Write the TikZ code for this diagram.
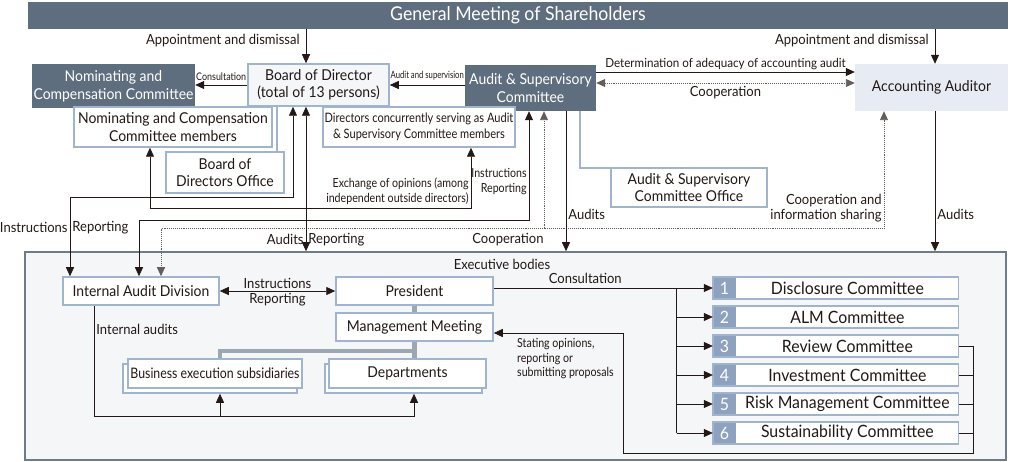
\documentclass[tikz,border=0pt]{standalone}
\usepackage{fontspec}
\setmainfont{Lato}[FakeStretch=0.93]
\newfontfamily\narrowfont[FakeStretch=0.85]{Lato}
\newfontfamily\narrowerfont[FakeStretch=0.77]{Lato}
\usetikzlibrary{arrows.meta}

\definecolor{slate}{RGB}{95,110,126}
\definecolor{frameblue}{RGB}{160,180,206}
\definecolor{numblue}{RGB}{142,162,191}
\definecolor{paleblue}{RGB}{231,235,243}
\definecolor{palegray}{RGB}{244,246,248}
\definecolor{execline}{RGB}{110,124,138}
\definecolor{stemgray}{RGB}{155,168,180}
\definecolor{ink}{RGB}{35,24,21}

\newcommand\sz[2]{\fontsize{#1}{#2}\selectfont}

\tikzset{
  darkbox/.style={fill=slate, text=white, align=center, inner sep=0pt, font=\sz{15}{18}},
  whitebox/.style={draw=frameblue, line width=1.5pt, fill=white, align=center, inner sep=0pt, font=\sz{15}{17.5}},
  lbl/.style={font=\sz{14}{15}, inner sep=2pt, align=center},
  narrow/.style={font=\narrowfont\sz{12.5}{15}, inner sep=2pt},
  minilbl/.style={font=\narrowfont\sz{10.5}{12}, inner sep=1.5pt},
  link/.style={draw=ink, line width=0.8pt},
  coop/.style={draw=ink!70, line width=0.9pt, densely dotted},
  bracket/.style={draw=frameblue, line width=1.5pt},
  stem/.style={draw=stemgray, line width=4.5pt},
  numbox/.style={fill=numblue, text=white, minimum width=23, minimum height=22, inner sep=0pt, font=\sz{17}{17}},
  combox/.style={fill=white, minimum width=222, minimum height=22, inner sep=0pt, font=\sz{17}{17}}
}

\begin{document}
\begin{tikzpicture}[x=1pt,y=-1pt, >={Triangle[length=9pt,width=8pt]}, every node/.style={text=ink}]
    \useasboundingbox (0,0) rectangle (1012,462);

    % Top level
    \node[darkbox, minimum width=980, minimum height=27, font=\sz{19}{20}] (gm) at (518,15.5) {General Meeting of Shareholders};
    \node[darkbox, minimum width=163, minimum height=44] (ncc) at (113.5,86) {Nominating and\\Compensation Committee};
    \node[whitebox, fill=palegray, minimum width=141, minimum height=42] (bod) at (318.5,85) {Board of Director\\(total of 13 persons)};
    \node[darkbox, minimum width=131, minimum height=46] (asc) at (530.5,88) {Audit \& Supervisory\\Committee};
    \node[fill=paleblue, minimum width=153, minimum height=47, font=\sz{15}{17}] (aa) at (931.5,87.5) {Accounting Auditor};

    % Members and offices
    \draw[bracket] ([xshift=-41.5]bod.south) -- ++(0,46);
    \draw[bracket] ([xshift=49.5]asc.south) -- ++(0,57) -- ++(31,0);
    \node[whitebox, minimum width=198, minimum height=40] (ncm) at (173,127) {Nominating and Compensation\\Committee members};
    \node[whitebox, minimum width=192, minimum height=40, font=\narrowfont\sz{13}{16}] (dcs) at (419,127) {Directors concurrently serving as Audit\\\& Supervisory Committee members};
    \node[whitebox, minimum width=118, minimum height=41] (bdo) at (225,172.5) {Board of\\Directors Office};
    \node[whitebox, minimum width=156, minimum height=39] (asco) at (689,187.5) {Audit \& Supervisory\\Committee Office};

    % Executive bodies
    \node[draw=execline, line width=1.5pt, fill=palegray, minimum width=981, minimum height=208, inner sep=0pt] (exec) at (515.5,356) {};
    \node[lbl] (exlbl) at (502,264) {Executive bodies};
    \node[whitebox, minimum width=156, minimum height=28] (iad) at (141,291) {Internal Audit Division};
    \node[whitebox, minimum width=157, minimum height=28] (pres) at (414.5,291) {President};
    \node[whitebox, minimum width=157, minimum height=28] (mm) at (414.5,327) {Management Meeting};
    \node[whitebox, minimum width=174, minimum height=29] (besb) at (210,378.5) {};
    \node[whitebox, minimum width=157, minimum height=29] (depb) at (403.5,378.5) {};
    \draw[stem] (pres.south) -- (mm.north);
    \draw[stem] (mm.south) -- ++(0,9) -| ([xshift=10]besb.north);
    \draw[stem] (mm.south) -- (mm.south |- depb.north);
    \node[whitebox, minimum width=174, minimum height=29, font=\narrowfont\sz{14.5}{17}] (bes) at (215,373.5) {Business execution subsidiaries};
    \node[whitebox, minimum width=157, minimum height=29] (dep) at (407.5,373.5) {Departments};

    % Committees
    \foreach \k/\name/\yy in {1/Disclosure Committee/288, 2/ALM Committee/317, 3/Review Committee/346,
        4/Investment Committee/375, 5/Risk Management Committee/404, 6/Sustainability Committee/433} {
        \node[numbox] (n\k) at (724.5,\yy) {\k};
        \node[combox, anchor=west] (c\k) at (n\k.east) {\name};
        \draw[frameblue, line width=1.5pt] (n\k.north west) rectangle (c\k.south east);
    }

    % Upper connectors
    \draw[link,->] ([xshift=-12.5]bod.north |- gm.south) -- node[lbl, left=4pt, pos=0.34] {Appointment and dismissal} ([xshift=-12.5]bod.north);
    \draw[link,->] ([xshift=3.5]aa.north |- gm.south) -- node[lbl, left=4pt, pos=0.34] {Appointment and dismissal} ([xshift=3.5]aa.north);
    \draw[link,->] (bod.west) -- node[minilbl, above=3pt] {Consultation} (bod.west -| ncc.east);
    \draw[link,->] (asc.west |- bod.east) -- node[minilbl, above=3pt, font=\narrowerfont\sz{10}{12}] {Audit and supervision} (bod.east);
    \draw[link,->] ([yshift=16]asc.east) -- node[lbl, above, font=\sz{12.5}{14}] {Determination of adequacy of accounting audit} ([yshift=16]asc.east -| aa.west);
    \draw[coop,<->] ([yshift=5]asc.east) -- node[lbl, below=1pt] {Cooperation} ([yshift=5]asc.east -| aa.west);

    % Links down to the executive bodies
    \draw[link,<->] ([xshift=-23]ncm.south) -- ++(0,61) -| node[pos=0.64, left, narrow, align=right] {Exchange of opinions (among\\independent outside directors)} ([xshift=52]dcs.south);
    \draw[link,<->] ([xshift=-25.5]bod.south) -- ++(0,91) -| node[pos=0.69, left, lbl] {Instructions} node[pos=0.69, right, lbl] {Reporting} ([xshift=-71]iad.north);
    \draw[link,<->] ([xshift=-1.5]asc.south) -- node[pos=0.65, left, narrow, align=right] {Instructions\\Reporting} ++(0,109) -| ([xshift=-2]iad.north);
    \draw[coop,<->] ([xshift=20]iad.north) -- ++(0,-48) coordinate (cp) -| node[pos=0.585, left, lbl, align=right] {Cooperation and\\information sharing} ([xshift=-47.5]aa.south);
    \draw[coop,->] ([xshift=13.5]asc.south |- cp) -- ([xshift=13.5]asc.south);
    \node[lbl] (coopl) at (508,240) {Cooperation};
    \draw[link,<->] ([xshift=-12.5]bod.south) -- node[pos=0.92, left, lbl] {Audits} node[pos=0.92, right, lbl] {Reporting} ([xshift=-12.5]bod.south |- exec.north);
    \draw[link,->] ([xshift=35.5]asc.south) -- node[pos=0.74, right, lbl] {Audits} ([xshift=35.5]asc.south |- exec.north);
    \draw[link,->] ([xshift=3.5]aa.south) -- node[pos=0.74, right, lbl] {Audits} ([xshift=3.5]aa.south |- exec.north);

    % Inside the executive bodies
    \draw[link,<->] (iad.east) -- node[lbl, above] {Instructions} node[lbl, below] {Reporting} (pres.west);
    \draw[link,->] ([xshift=-47]iad.south) -- node[pos=0.21, right, lbl] {Internal audits} ++(0,111) coordinate (ia) -| ([xshift=10.5]depb.south);
    \draw[link,->] ([xshift=10]besb.south |- ia) -- ([xshift=10]besb.south);
    \coordinate (tr) at ([xshift=-36]n1.west);
    \draw[link] (n1.west -| pres.east) -- node[lbl, above=2pt] {Consultation} (n1.west -| tr) -- (n6.west -| tr);
    \foreach \k in {1,...,6} {
        \draw[link,->] (n\k.west -| tr) -- (n\k.west);
    }
    \draw[link] (c3.east) -- ++(15,0) coordinate (rb);
    \foreach \k in {4,5,6} {
        \draw[link] (c\k.east) -- (c\k.east -| rb);
    }
    \draw[link,->] (rb) -- ++(0,107) -| ++(-350,-120) -- ([yshift=-6]mm.east);
    \node[anchor=west, align=left, inner sep=0pt, font=\narrowfont\sz{12.5}{14.5}] (stl) at (517,359) {Stating opinions,\\reporting or\\submitting proposals};
\end{tikzpicture}
\end{document}
